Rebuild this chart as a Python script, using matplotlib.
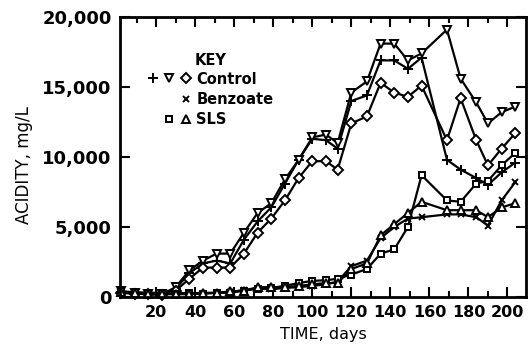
import matplotlib
matplotlib.use("Agg")
import matplotlib.pyplot as plt
from matplotlib.lines import Line2D
from matplotlib.legend_handler import HandlerTuple
from matplotlib.ticker import MultipleLocator, FuncFormatter

plt.rcParams['font.family'] = ['DejaVu Sans']
plt.rcParams['font.weight'] = 'bold'

days = [2, 9, 16, 23, 30, 37, 44, 51, 58, 65, 72, 79, 86, 93, 100, 107, 113,
        120, 128, 135, 142, 149, 156, 169, 176, 184, 190, 197, 204]

control_plus = [350, 300, 250, 200, 600, 1700, 2400, 2600, 2400, 4100, 5400, 6400, 8100, 9800,
                11300, 11200, 10600, 14000, 14400, 16900, 16900, 16300, 17100, 9800, 9100,
                8500, 8000, 8900, 9600]
control_tri = [400, 300, 250, 200, 700, 1900, 2600, 3100, 3100, 4600, 6000, 6700, 8400, 9800,
               11400, 11600, 11000, 14600, 15400, 18100, 18100, 16900, 17400, 19100, 15600,
               13900, 12400, 13200, 13600]
control_dia = [300, 250, 200, 150, 450, 1300, 2100, 2100, 2100, 3100, 4600, 5600, 6900, 8500,
               9700, 9700, 9100, 12400, 12900, 15300, 14600, 14300, 15100, 11200, 14200,
               11200, 9400, 10600, 11700]
benzoate = [300, 250, 200, 200, 200, 200, 250, 300, 350, 500, 600, 550, 650, 700, 800, 900,
            1100, 2200, 2600, 4200, 5000, 5600, 5700, 5900, 5900, 5700, 5100, 6900, 8200]
sls_sq = [400, 350, 300, 300, 250, 300, 250, 300, 300, 450, 600, 650, 800, 1000, 1150, 1200,
          1300, 1600, 2000, 3100, 3400, 5000, 8700, 6900, 6800, 8100, 8300, 9400, 10300]
sls_tri = [350, 300, 250, 250, 200, 250, 300, 300, 400, 450, 700, 700, 700, 800, 900, 1000,
           1000, 2000, 2400, 4400, 5200, 6000, 6800, 6200, 6200, 6200, 5700, 6400, 6700]

x_ticks = [20, 40, 60, 80, 100, 120, 140, 160, 180, 200]
y_ticks = [0, 5000, 10000, 15000, 20000]

fig = plt.figure(figsize=(5.31, 3.47), dpi=100)
ax = fig.add_axes([120/531, 1 - 297/347, 406/531, 280/347])

lw = 1.6
common = dict(color='black', lw=lw, mec='black', mfc='white', mew=1.4, clip_on=False)
ax.plot(days, control_plus, marker='+', ms=7, **common)
ax.plot(days, control_tri, marker='v', ms=6, **common)
ax.plot(days, control_dia, marker='D', ms=5, **common)
ax.plot(days, benzoate, marker='x', ms=5, **common)
ax.plot(days, sls_sq, marker='s', ms=5, **common)
ax.plot(days, sls_tri, marker='^', ms=5.5, **common)

ax.set_xlim(1.5, 209.5)
ax.set_ylim(0, 20000)
ax.set_xticks(x_ticks)
ax.xaxis.set_minor_locator(MultipleLocator(10))
ax.set_yticks(y_ticks)
ax.yaxis.set_major_formatter(FuncFormatter(lambda v, p: f"{int(v):,}"))

for s in ax.spines.values():
    s.set_linewidth(2)
ax.tick_params(which='both', direction='in', top=True, right=True, width=1.5)
ax.tick_params(which='major', length=7)
ax.tick_params(which='minor', length=4)
ax.tick_params(axis='x', labelsize=11.5, pad=6)
ax.tick_params(axis='y', labelsize=13, pad=6)

ax.set_xlabel('TIME, days', fontsize=11.5, labelpad=5)
ax.set_ylabel('ACIDITY, mg/L', fontsize=12)
ax.yaxis.set_label_coords(-0.215, 0.47)

def mk(m, ms):
    return Line2D([], [], color='black', marker=m, ms=ms, mfc='white', mec='black', mew=1.4, ls='none')
blank = Line2D([], [], ls='none', marker='')
handles = [(mk('+', 7), mk('v', 6), mk('D', 5)),
           (blank, blank, mk('x', 5)),
           (blank, mk('s', 5), mk('^', 5.5))]
labels = ['Control', 'Benzoate', 'SLS']
ax.legend(handles, labels, handler_map={tuple: HandlerTuple(ndivide=None, pad=0)},
          loc='upper left', bbox_to_anchor=(0.06, 0.805), frameon=False, fontsize=10.5,
          handlelength=3.4, handletextpad=0.15, labelspacing=0.35, borderpad=0, borderaxespad=0)
ax.text(0.185, 0.846, 'KEY', transform=ax.transAxes, fontsize=10.5, va='center', ha='left')

fig.savefig('out.png', dpi=100)
